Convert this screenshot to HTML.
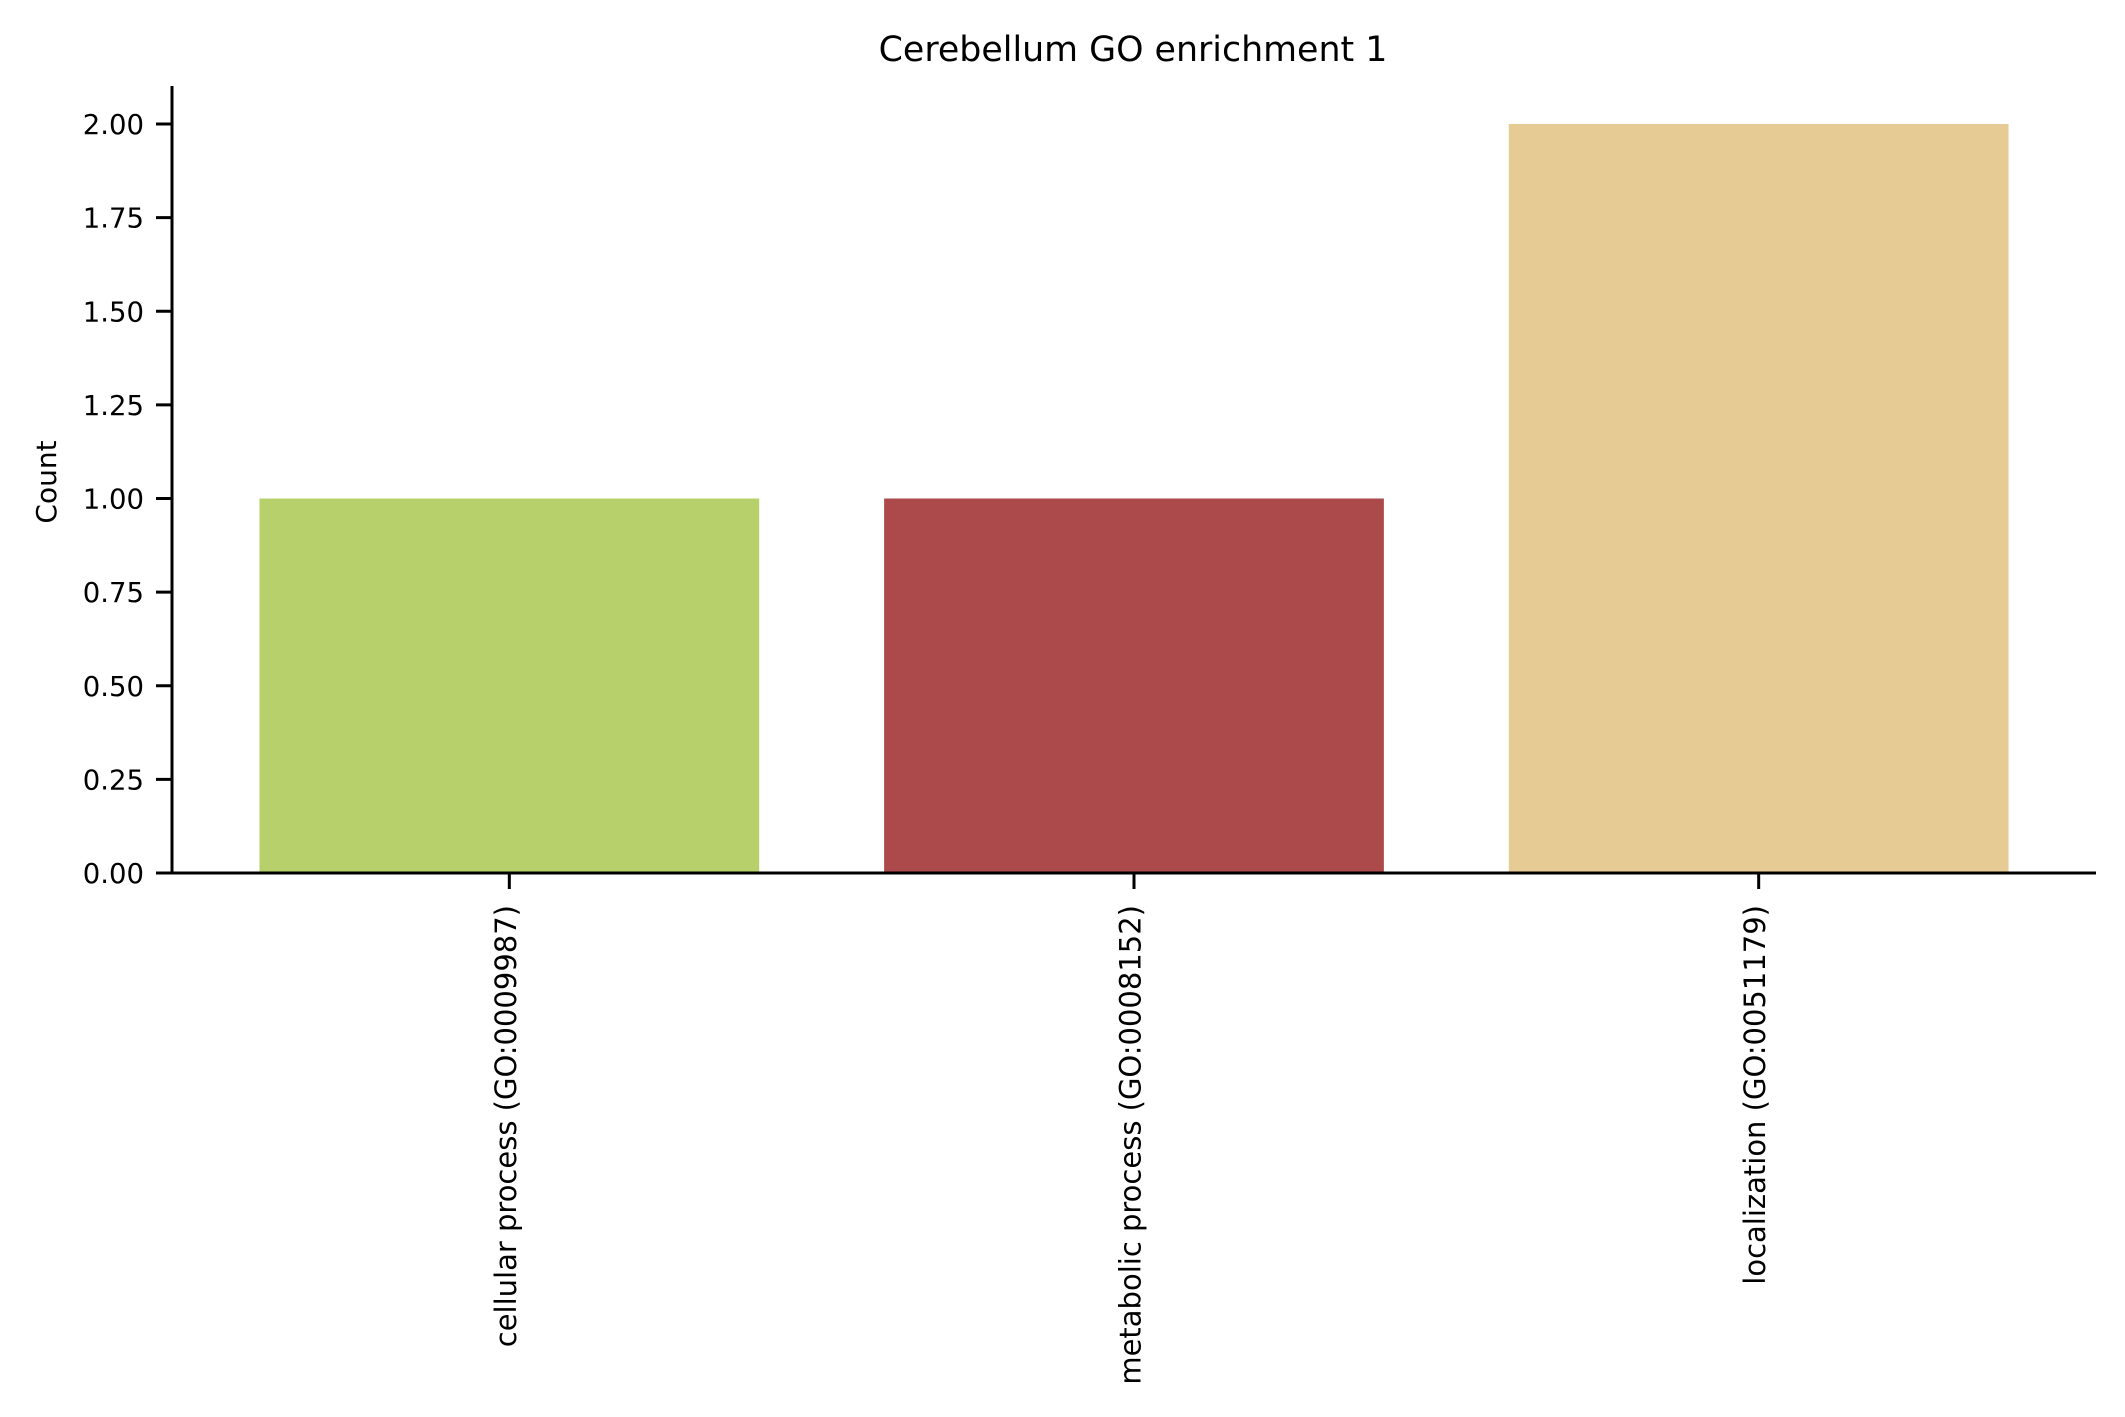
<!DOCTYPE html>
<html><head><meta charset="utf-8"><style>
html,body{margin:0;padding:0;background:#fff;}
svg{display:block;font-family:"DejaVu Sans","Liberation Sans",sans-serif;}
</style></head><body>
<svg id="chart" width="2125" height="1417" viewBox="0 0 2125 1417" xmlns="http://www.w3.org/2000/svg">
<rect width="2125" height="1417" fill="#fff"/>
<text x="1133" y="61" font-size="34.8" text-anchor="middle">Cerebellum GO enrichment 1</text>
<text transform="translate(56,482) rotate(-90)" font-size="28" text-anchor="middle">Count</text>
<g id="bars"></g>
<g id="axes"></g>
</svg>
<script>
const categories = ["cellular process (GO:0009987)", "metabolic process (GO:0008152)", "localization (GO:0051179)"];
const values = [1, 1, 2];
const colors = ["#b8d06c", "#ab494b", "#e6cb95"];
const yTicks = [0, 0.25, 0.5, 0.75, 1.0, 1.25, 1.5, 1.75, 2.0];
const yTickLabels = ["0.00","0.25","0.50","0.75","1.00","1.25","1.50","1.75","2.00"];

const NS = "http://www.w3.org/2000/svg";
const axLeft = 172, axRight = 2096, axBottom = 873, axTop = 86;
const y0 = 873, y2 = 124;
function yScale(v){ return y0 - v * (y0 - y2) / 2; }
const xmin = -0.54, xmax = categories.length - 1 + 0.54;
function xScale(i){ return axLeft + (i - xmin) * (axRight - axLeft) / (xmax - xmin); }
const band = (axRight - axLeft) / (xmax - xmin);

const barsG = document.getElementById('bars');
const axesG = document.getElementById('axes');
function mk(tag, attrs, parent){
  const e = document.createElementNS(NS, tag);
  for (const k in attrs) e.setAttribute(k, attrs[k]);
  parent.appendChild(e);
  return e;
}
values.forEach((v, i) => {
  const cx = xScale(i), w = band * 0.8;
  const r = mk('rect', {x: cx - w/2, y: yScale(v), width: w, height: yScale(0) - yScale(v), fill: colors[i]}, barsG);
  
  
  const t = mk('line', {x1: cx, x2: cx, y1: axBottom, y2: axBottom + 16, stroke: '#000', 'stroke-width': 3}, axesG);
  
  
  const lbl = mk('text', {transform: 'translate(' + (cx + 6.5) + ',' + (axBottom + 32) + ') rotate(-90)', 'font-size': 29, 'text-anchor': 'end'}, axesG);
  lbl.textContent = categories[i];
  
  
});
yTicks.forEach((v, i) => {
  const y = yScale(v);
  const t = mk('line', {x1: axLeft - 16, x2: axLeft, y1: y, y2: y, stroke: '#000', 'stroke-width': 3}, axesG);
  
  
  const lbl = mk('text', {x: axLeft - 28, y: y + 10, 'font-size': 27.5, 'text-anchor': 'end'}, axesG);
  lbl.textContent = yTickLabels[i];
  
  
});
const ya = mk('line', {x1: axLeft, x2: axLeft, y1: axTop, y2: axBottom + 1.5, stroke: '#000', 'stroke-width': 3}, axesG);


const xa = mk('line', {x1: axLeft - 1.5, x2: axRight, y1: axBottom, y2: axBottom, stroke: '#000', 'stroke-width': 3}, axesG);


</script>
</body></html>
